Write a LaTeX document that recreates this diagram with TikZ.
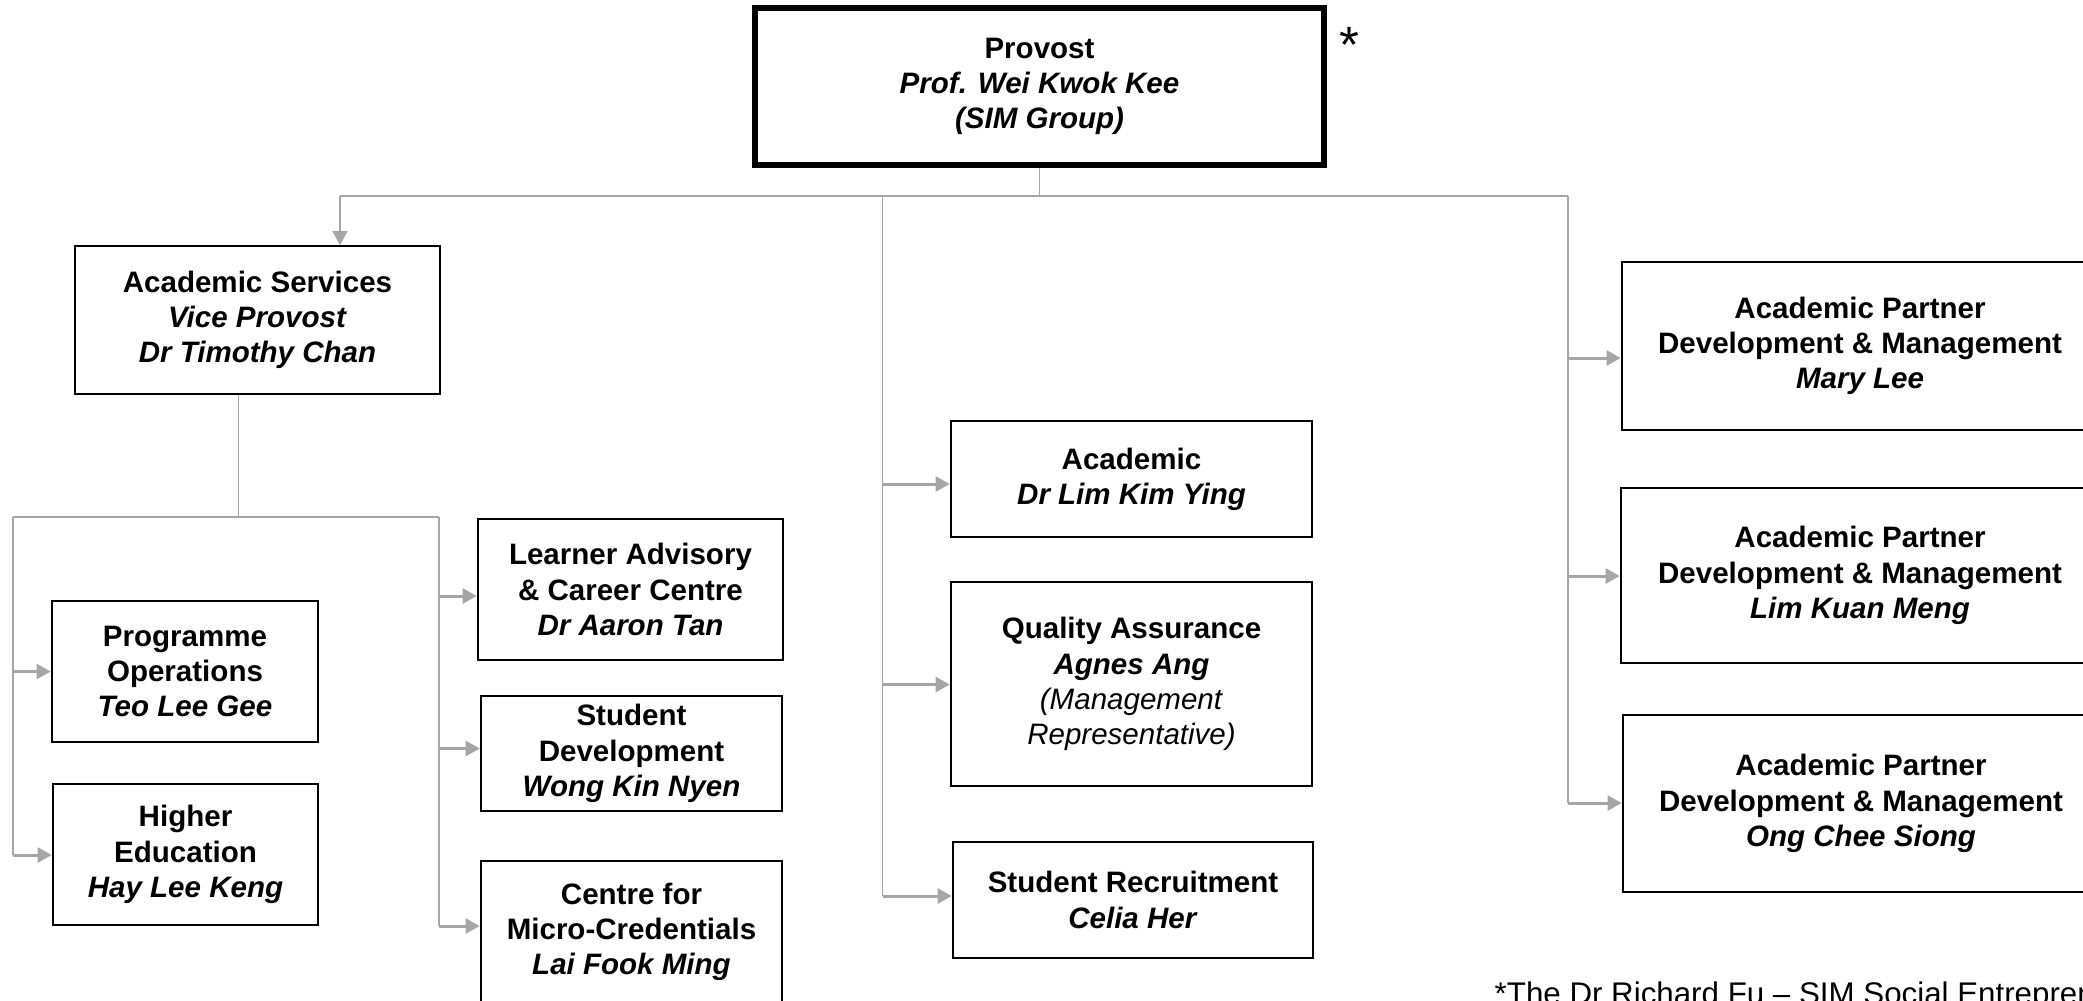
\documentclass[tikz,border=0pt]{standalone}
\usepackage{fontspec}
\setmainfont{Liberation Sans}
\usetikzlibrary{arrows.meta}
\definecolor{linkgray}{RGB}{166,166,166}
\newcommand{\unitbox}[6]{\node[unit, minimum width=#4cm, minimum height=#5cm] (#1) at (#2,#3) {#6};}
\newcommand{\role}[1]{\textbf{#1}}
\newcommand{\who}[1]{\textbf{\textit{#1}}}

\begin{document}
\begin{tikzpicture}[x=0.01cm, y=-0.01cm,
    unit/.style={draw, line width=0.65pt, align=center, inner sep=0pt, font=\fontsize{8.4}{10}\selectfont},
    link/.style={draw=linkgray, line width=0.45pt},
    stub/.style={draw=linkgray, line width=0.85pt, -{Triangle[length=4pt,width=4.2pt]}}]
        \useasboundingbox (0,0) rectangle (2083,1000);
        \clip (0,0) rectangle (2083,1000);
        % top
        \node[unit, line width=1.7pt, minimum width=5.69cm, minimum height=1.57cm] (prov) at (1039.5,86.5)
            {\role{Provost}\\\who{Prof. Wei Kwok Kee}\\\who{(SIM Group)}};
        \node[anchor=base, inner sep=0pt, font=\fontsize{14.5}{17}\selectfont] (star) at (1349,62) {*};
        \node[unit, line width=0.4pt, minimum width=3.65cm, minimum height=1.48cm] (acs) at (257.5,320)
            {\role{Academic Services}\\\who{Vice Provost}\\\who{Dr Timothy Chan}};
        % left column
        \unitbox{prog}{185}{671.5}{2.66}{1.41}{\role{Programme}\\\role{Operations}\\\who{Teo Lee Gee}}
        \unitbox{higher}{185.5}{854.5}{2.65}{1.41}{\role{Higher}\\\role{Education}\\\who{Hay Lee Keng}}
        \unitbox{learner}{630.5}{589.5}{3.05}{1.41}{\role{Learner Advisory}\\\role{\& Career Centre}\\\who{Dr Aaron Tan}}
        \unitbox{studev}{631.5}{753.5}{3.01}{1.15}{\role{Student}\\\role{Development}\\\who{Wong Kin Nyen}}
        \unitbox{micro}{631.5}{932}{3.01}{1.42}{\role{Centre for}\\\role{Micro-Credentials}\\\who{Lai Fook Ming}}
        % middle column
        \unitbox{acad}{1131.5}{479}{3.61}{1.16}{\role{Academic}\\\who{Dr Lim Kim Ying}}
        \unitbox{qual}{1131.5}{684}{3.61}{2.04}{\role{Quality Assurance}\\\who{Agnes Ang}\\\textit{(Management}\\\textit{Representative)}}
        \unitbox{recruit}{1133}{900}{3.60}{1.16}{\role{Student Recruitment}\\\who{Celia Her}}
        % right column
        \unitbox{apdm1}{1860}{346}{4.76}{1.68}{\role{Academic Partner}\\\role{Development \& Management}\\\who{Mary Lee}}
        \unitbox{apdm2}{1860}{575.5}{4.78}{1.75}{\role{Academic Partner}\\\role{Development \& Management}\\\who{Lim Kuan Meng}}
        \unitbox{apdm3}{1861}{803.5}{4.76}{1.77}{\role{Academic Partner}\\\role{Development \& Management}\\\who{Ong Chee Siong}}
        % footnote
        \node[anchor=base west, inner sep=0pt, font=\fontsize{8.9}{10}\selectfont] (note) at (1494,1004)
            {*The Dr Richard Fu – SIM Social Entrepreneurship};

        % top bus
        \coordinate (bus) at (1040,196);
        \coordinate (busL) at (340,196);
        \coordinate (busM) at (882.5,196);
        \coordinate (busR) at (1568,196);
        \draw[link] (prov.south) -- (prov.south |- bus);
        \draw[link] (busL) -- (busR);
        \draw[stub, line width=0.45pt] (busL) -- (busL |- acs.north);
        % middle trunk
        \coordinate (m1) at (882.5,484);
        \coordinate (m2) at (882.5,684.5);
        \coordinate (m3) at (882.5,896);
        \draw[link] (busM) -- (m3);
        \draw[stub] (m1) -- (m1 -| acad.west);
        \draw[stub] (m2) -- (m2 -| qual.west);
        \draw[stub] (m3) -- (m3 -| recruit.west);
        % right trunk
        \coordinate (r1) at (1568,358);
        \coordinate (r2) at (1568,576);
        \coordinate (r3) at (1568,803);
        \draw[link] (busR) -- (r3);
        \draw[stub] (r1) -- (r1 -| apdm1.west);
        \draw[stub] (r2) -- (r2 -| apdm2.west);
        \draw[stub] (r3) -- (r3 -| apdm3.west);
        % academic services
        \coordinate (asd) at (238.5,517);
        \coordinate (lt) at (13,517);
        \coordinate (st) at (439,517);
        \coordinate (l1) at (13,671.5);
        \coordinate (l2) at (13,855);
        \coordinate (s1) at (439,596);
        \coordinate (s2) at (439,748.5);
        \coordinate (s3) at (439,926);
        \draw[link] (acs.south -| asd) -- (asd);
        \draw[link] (lt) -- (st);
        \draw[link] (lt) -- (l2);
        \draw[link] (st) -- (s3);
        \draw[stub] (l1) -- (l1 -| prog.west);
        \draw[stub] (l2) -- (l2 -| higher.west);
        \draw[stub] (s1) -- (s1 -| learner.west);
        \draw[stub] (s2) -- (s2 -| studev.west);
        \draw[stub] (s3) -- (s3 -| micro.west);
\end{tikzpicture}
\end{document}
